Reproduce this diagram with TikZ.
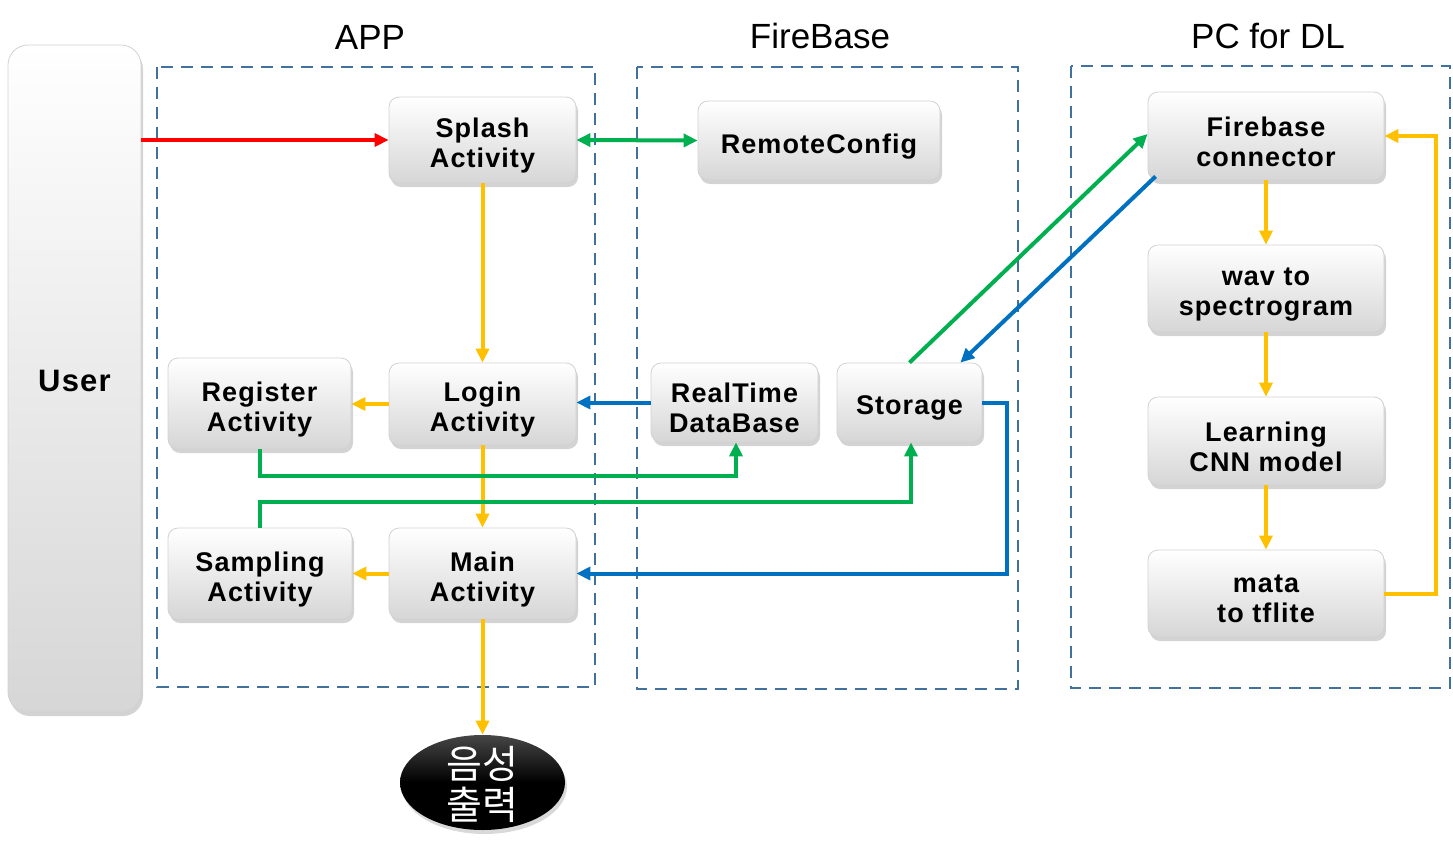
\documentclass[tikz,border=0pt]{standalone}
\usepackage{fontspec}
\setmainfont{Liberation Sans}
\newfontfamily\boxfont[LetterSpace=4,BoldFont={Liberation Sans Bold}]{Liberation Sans}
\newfontfamily\krfont{Noto Sans CJK KR}
\usetikzlibrary{arrows.meta,shadows,calc,shapes.geometric}
\definecolor{cred}{HTML}{FF0000}
\definecolor{cgreen}{HTML}{00B050}
\definecolor{cblue}{HTML}{0070C0}
\definecolor{cyellow}{HTML}{FFC000}
\definecolor{cdash}{HTML}{41719C}
\tikzset{
  boxnode/.style={rounded corners=5pt, top color=white, bottom color=gray!32,
    draw=gray!35, line width=0.4pt, inner sep=0pt,
    drop shadow={opacity=0.35, shadow xshift=1pt, shadow yshift=-2pt}},
  boxtext/.style={align=center, inner sep=0pt, yshift=-2.8pt,
    font=\boxfont\bfseries\fontsize{13.5}{15}\selectfont},
  groupbox/.style={draw=cdash, line width=1.4pt, dash pattern=on 6pt off 4pt},
  titlenode/.style={font=\fontsize{17.5}{20}\selectfont},
  conn/.style={line width=2pt, -{Triangle[length=7pt,width=6.5pt]}},
}
\begin{document}
\begin{tikzpicture}[x=0.5pt,y=-0.5pt]
\useasboundingbox (0,0) rectangle (1453,863);
% group boxes
\draw[groupbox] (157,67) rectangle (595,687);
\draw[groupbox] (637,67) rectangle (1018,689);
\draw[groupbox] (1071,66) rectangle (1450,688);
\node[titlenode] (tapp) at (370,37) {APP};
\node[titlenode] (tfb) at (820,36) {FireBase};
\node[titlenode] (tpc) at (1268,36) {PC for DL};
% user
\node[boxnode, rounded corners=10pt, minimum width=66.5pt, minimum height=333.5pt,
  label={[boxtext, yshift=1.5pt, font=\boxfont\bfseries\fontsize{15.5}{18}\selectfont]center:User}] (user) at (74.5,378.5) {};
% app nodes
\node[boxnode, minimum width=93.5pt, minimum height=43pt, label={[boxtext]center:Splash\\Activity}] (splash) at (482.5,140) {};
\node[boxnode, minimum width=91.5pt, minimum height=45.5pt, label={[boxtext]center:Register\\Activity}] (reg) at (259.5,403.5) {};
\node[boxnode, minimum width=93.5pt, minimum height=41pt, label={[boxtext]center:Login\\Activity}] (login) at (482.5,404) {};
\node[boxnode, minimum width=92pt, minimum height=45.5pt, label={[boxtext]center:Sampling\\Activity}] (samp) at (260,573.5) {};
\node[boxnode, minimum width=93.5pt, minimum height=45.5pt, label={[boxtext]center:Main\\Activity}] (main) at (482.5,573.5) {};
% firebase nodes
\node[boxnode, minimum width=121pt, minimum height=39.5pt, label={[boxtext]center:RemoteConfig}] (rc) at (819,140.5) {};
\node[boxnode, minimum width=83.5pt, minimum height=39.5pt, label={[boxtext]center:RealTime\\DataBase}] (rtd) at (734.5,402.5) {};
\node[boxnode, minimum width=72.5pt, minimum height=39.5pt, label={[boxtext]center:Storage}] (sto) at (909.5,402.5) {};
% pc nodes
\node[boxnode, minimum width=118pt, minimum height=44pt, label={[boxtext]center:Firebase\\connector}] (fc) at (1266,136) {};
\node[boxnode, minimum width=118pt, minimum height=43.5pt, label={[boxtext]center:wav to\\spectrogram}] (wav) at (1266,288.5) {};
\node[boxnode, minimum width=118pt, minimum height=44pt, label={[boxtext]center:Learning\\CNN model}] (cnn) at (1266,441) {};
\node[boxnode, minimum width=118pt, minimum height=43.5pt, label={[boxtext]center:mata\\to tflite}] (mata) at (1266,593.5) {};
% output ellipse
\node[ellipse, minimum width=82.5pt, minimum height=47.5pt, inner sep=0pt,
  top color=gray!55!black, bottom color=black, middle color=black,
  drop shadow={opacity=0.3, shadow xshift=1pt, shadow yshift=-2pt},
  label={[text=white, align=center, inner sep=0pt, yshift=-1pt, font=\krfont\fontsize{19.5}{20.5}\selectfont]center:음성\\출력}] (out) at (482.5,782.5) {};
% connectors
\draw[conn, cred] (user.east |- splash.west) -- (splash.west);
\draw[conn, cgreen, {Triangle[length=7pt,width=6.5pt]}-{Triangle[length=7pt,width=6.5pt]}] (splash.east) -- (rc.west);
\draw[conn, cyellow] (splash.south) -- (login.north);
\draw[conn, cyellow] (login.west) -- (reg.east |- login.west);
\draw[conn, cblue] (rtd.west) -- (login.east |- rtd.west);
\draw[conn, cyellow] (login.south) -- (main.north);
\draw[conn, cyellow] (main.west) -- (samp.east |- main.west);
\draw[conn, cyellow] (main.south) -- (out.north);
\draw[conn, cgreen] (reg.south) -- ++(0,27) -| ($(rtd.south)+(1.5,0)$);
\draw[conn, cgreen] (samp.north) -- ++(0,-26) -| ($(sto.south)+(1.5,0)$);
\draw[conn, cblue] (sto.east) -- ++(25,0) |- (main.east);
\draw[conn, cgreen] (sto.north) -- ($(fc.west)+(0,-2)$);
\draw[conn, cblue] ($(fc.south west)+(8,-4)$) -- ($(sto.north east)+(-22,0)$);
\draw[conn, cyellow] (fc.south) -- (wav.north);
\draw[conn, cyellow] (wav.south) -- (cnn.north);
\draw[conn, cyellow] (cnn.south) -- (mata.north);
\draw[conn, cyellow] (mata.east) -- ++(52,0) |- (fc.east);
\end{tikzpicture}
\end{document}
